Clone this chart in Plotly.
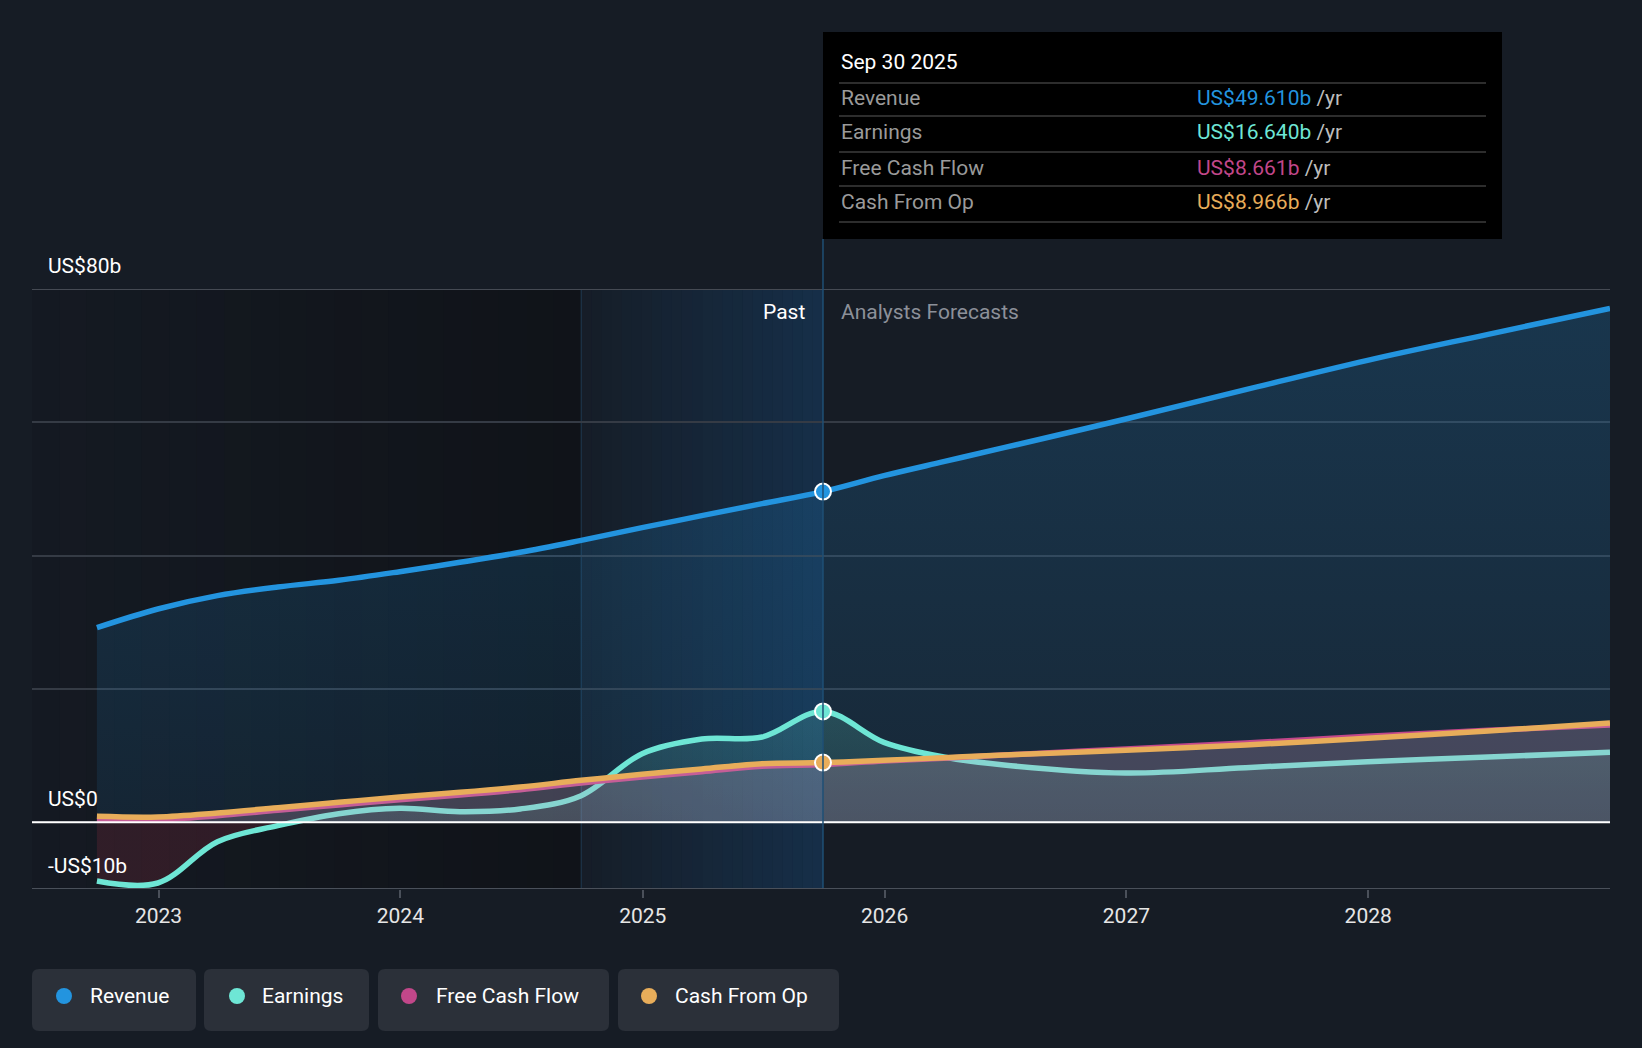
import pandas as pd
import plotly.graph_objects as go

# ── Data (US$ billions) ───────────────────────────────────────────────────────
dates = [
    "2022-09-30", "2022-12-31", "2023-03-31", "2023-06-30", "2023-09-30",
    "2023-12-31", "2024-03-31", "2024-06-30", "2024-09-30", "2024-12-31",
    "2025-03-31", "2025-06-30", "2025-09-30",
    "2025-12-31", "2026-03-31", "2026-06-30", "2026-12-31", "2027-06-30",
    "2027-12-31", "2028-06-30", "2028-12-31",
]
revenue = [29.2, 32.0, 34.0, 35.3, 36.3, 37.6, 39.0, 40.5, 42.3, 44.2, 46.0, 47.8, 49.61,
           52.0, 54.1, 56.2, 60.5, 64.9, 69.3, 73.2, 77.1]
earnings = [-8.8, -9.1, -2.9, -0.5, 1.3, 2.1, 1.6, 2.0, 4.0, 10.3, 12.5, 12.8, 16.64,
            12.0, 9.8, 8.6, 7.4, 8.2, 9.1, 9.8, 10.5]
free_cash_flow = [0.5, 0.4, 1.0, 1.8, 2.6, 3.4, 4.1, 4.9, 5.9, 6.8, 7.6, 8.4, 8.661,
                  9.2, 9.6, 10.1, 11.0, 11.9, 12.9, 13.8, 14.6]
cash_from_op = [0.9, 0.8, 1.4, 2.2, 3.0, 3.8, 4.5, 5.3, 6.3, 7.2, 8.0, 8.8, 8.966,
                9.3, 9.7, 10.1, 10.8, 11.6, 12.6, 13.7, 14.9]

NOW = "2025-09-30"
BAND_START = "2024-09-30"
X_START = "2022-06-24"
X_END = "2028-12-31"
Y_LABELS = {80: "US$80b", 0: "US$0", -10: "-US$10b"}

SERIES = [
    ("Revenue", revenue, "#2394df"),
    ("Earnings", earnings, "#6ee6d5"),
    ("Free Cash Flow", free_cash_flow, "#c2478a"),
    ("Cash From Op", cash_from_op, "#e8ad5a"),
]

BG = "#161c25"
FONT = "Roboto"
FS = 21
W, H = 1642, 1048
L, R, T, B = 32, 32, 289, 159
PW, PH = W - L - R, H - T - B


def px(x, y):
    """pixel position on the page -> paper coords"""
    return (x - L) / PW, (H - B - y) / PH


def rounded_rect(x0, y0, x1, y1, r):
    pts = [(x0 + r, y0), (x1 - r, y0), (x1, y0 + r), (x1, y1 - r),
           (x1 - r, y1), (x0 + r, y1), (x0, y1 - r), (x0, y0 + r)]
    p = [px(a, b) for a, b in pts]
    c = [px(x1, y0), px(x1, y1), px(x0, y1), px(x0, y0)]
    return (f"M{p[0][0]},{p[0][1]} L{p[1][0]},{p[1][1]} Q{c[0][0]},{c[0][1]} {p[2][0]},{p[2][1]} "
            f"L{p[3][0]},{p[3][1]} Q{c[1][0]},{c[1][1]} {p[4][0]},{p[4][1]} "
            f"L{p[5][0]},{p[5][1]} Q{c[2][0]},{c[2][1]} {p[6][0]},{p[6][1]} "
            f"L{p[7][0]},{p[7][1]} Q{c[3][0]},{c[3][1]} {p[0][0]},{p[0][1]} Z")


fig = go.Figure()

# ── Traces ────────────────────────────────────────────────────────────────────
LW = 5.5
fig.add_trace(go.Scatter(
    x=dates, y=revenue, mode="lines", line=dict(color="#2394df", width=LW, shape="spline"),
    fill="tozeroy",
    fillgradient=dict(type="vertical", start=0, stop=80,
                      colorscale=[[0, "rgba(35,148,223,0.10)"], [1, "rgba(35,148,223,0.22)"]]),
    hoverinfo="skip", showlegend=False,
))
fig.add_trace(go.Scatter(
    x=dates, y=earnings, mode="lines", line=dict(color="#6ee6d5", width=LW, shape="spline"),
    fill="tozeroy",
    fillgradient=dict(type="vertical", start=-10, stop=20,
                      colorscale=[[0, "rgba(150,45,65,0.22)"], [0.333, "rgba(150,45,65,0.22)"],
                                  [0.334, "rgba(110,230,213,0.10)"], [1, "rgba(110,230,213,0.20)"]]),
    hoverinfo="skip", showlegend=False,
))
fig.add_trace(go.Scatter(
    x=dates, y=free_cash_flow, mode="lines", line=dict(color="#c2478a", width=LW, shape="spline"),
    fill="tozeroy", fillcolor="rgba(194,71,138,0.10)",
    hoverinfo="skip", showlegend=False,
))
fig.add_trace(go.Scatter(
    x=dates, y=cash_from_op, mode="lines", line=dict(color="#e8ad5a", width=LW, shape="spline"),
    fill="tozeroy", fillcolor="rgba(215,215,225,0.16)",
    hoverinfo="skip", showlegend=False,
))

# highlighted points at the "now" date
i_now = dates.index(NOW)
for name, vals, color in [SERIES[0], SERIES[1], SERIES[3]]:
    fig.add_trace(go.Scatter(
        x=[dates[i_now]], y=[vals[i_now]], mode="markers",
        marker=dict(color=color, size=16, line=dict(color="white", width=2)),
        hoverinfo="skip", showlegend=False,
    ))

# ── Background regions ────────────────────────────────────────────────────────
shapes = []
past = pd.date_range(X_START, BAND_START, periods=21)
for k in range(20):
    a = 0.15 + 0.55 * k / 19
    shapes.append(dict(type="rect", xref="x", yref="paper", x0=past[k], x1=past[k + 1], y0=0, y1=1,
                       fillcolor=f"rgba(14,16,20,{a:.3f})", line_width=0, layer="below"))
band = pd.date_range(BAND_START, NOW, periods=25)
for k in range(24):
    a = 0.04 + 0.32 * k / 23
    shapes.append(dict(type="rect", xref="x", yref="paper", x0=band[k], x1=band[k + 1], y0=0, y1=1,
                       fillcolor=f"rgba(22,80,135,{a:.3f})", line_width=0, layer="below"))
shapes.append(dict(type="line", xref="x", yref="paper", x0=BAND_START, x1=BAND_START, y0=0, y1=1,
                   line=dict(color="rgba(40,80,115,0.6)", width=1), layer="below"))
# top gridline
shapes.append(dict(type="line", xref="paper", yref="y", x0=0, x1=1, y0=80, y1=80,
                   line=dict(color="#454a53", width=2), layer="below"))
# zero line over the series
shapes.append(dict(type="line", xref="paper", yref="y", x0=0, x1=1, y0=0, y1=0,
                   line=dict(color="#ffffff", width=2)))
# now divider reaching up to the tooltip
shapes.append(dict(type="line", xref="x", yref="paper", x0=NOW, x1=NOW, y0=0, y1=px(0, 239)[1],
                   line=dict(color="#1f4f75", width=1.5)))
# bottom axis line
shapes.append(dict(type="line", xref="paper", yref="y", x0=0, x1=1, y0=-10, y1=-10,
                   line=dict(color="#4a505a", width=2)))

# ── Tooltip box ───────────────────────────────────────────────────────────────
tx0, ty0 = px(823, 32)
tx1, ty1 = px(1502, 239)
shapes.append(dict(type="rect", xref="paper", yref="paper", x0=tx0, x1=tx1, y0=ty1, y1=ty0,
                   fillcolor="#000000", line_width=0))
for sy in [83, 116, 152, 186, 222]:
    sx0, yy = px(839, sy)
    sx1, _ = px(1486, sy)
    shapes.append(dict(type="line", xref="paper", yref="paper", x0=sx0, x1=sx1, y0=yy, y1=yy,
                       line=dict(color="#3c3c3c", width=1.5)))

annotations = []
lx, _ = px(839, 0)
vx, _ = px(1195, 0)
annotations.append(dict(text="Sep 30 2025", xref="paper", yref="paper", x=lx, y=px(0, 62)[1],
                        xanchor="left", yanchor="middle", showarrow=False,
                        font=dict(family=FONT, size=FS, color="#ffffff")))
tooltip_values = ["US$49.610b", "US$16.640b", "US$8.661b", "US$8.966b"]
for (name, vals, color), val, ry in zip(SERIES, tooltip_values, [98, 132, 168, 202]):
    yy = px(0, ry)[1]
    annotations.append(dict(text=name, xref="paper", yref="paper", x=lx, y=yy,
                            xanchor="left", yanchor="middle", showarrow=False,
                            font=dict(family=FONT, size=FS, color="#9a9a9a")))
    annotations.append(dict(text=f"<span style='color:{color}'>{val}</span> /yr",
                            xref="paper", yref="paper", x=vx, y=yy,
                            xanchor="left", yanchor="middle", showarrow=False,
                            font=dict(family=FONT, size=FS, color="#bdbdbd")))

# Past / forecast labels
annotations.append(dict(text="Past", xref="x", yref="paper", x=NOW, y=px(0, 312)[1],
                        xanchor="right", yanchor="middle", xshift=-16, showarrow=False,
                        font=dict(family=FONT, size=FS, color="#ffffff")))
annotations.append(dict(text="Analysts Forecasts", xref="x", yref="paper", x=NOW, y=px(0, 312)[1],
                        xanchor="left", yanchor="middle", xshift=16, showarrow=False,
                        font=dict(family=FONT, size=FS, color="#8c9099")))

# y labels above their gridlines
for val, lab in Y_LABELS.items():
    annotations.append(dict(text=lab, xref="paper", yref="y", x=px(46, 0)[0], y=val,
                            xanchor="left", yanchor="bottom", yshift=9, showarrow=False,
                            font=dict(family=FONT, size=FS, color="#ffffff")))

# ── Legend buttons ────────────────────────────────────────────────────────────
buttons = [(32, 196, 64, 88), (204, 369, 237, 260), (378, 609, 409, 434), (618, 839, 649, 673)]
for (name, vals, color), (bx0, bx1, dx, txx) in zip(SERIES, buttons):
    shapes.append(dict(type="path", xref="paper", yref="paper", path=rounded_rect(bx0, 969, bx1, 1031, 7),
                       fillcolor="#2b3039", line_width=0))
    c0 = px(dx - 8, 988)
    c1 = px(dx + 8, 1004)
    shapes.append(dict(type="circle", xref="paper", yref="paper", x0=c0[0], x1=c1[0], y0=c1[1], y1=c0[1],
                       fillcolor=color, line_width=0))
    tx, ty = px(txx, 996)
    annotations.append(dict(text=name, xref="paper", yref="paper", x=tx, y=ty,
                            xanchor="left", yanchor="middle", showarrow=False,
                            font=dict(family=FONT, size=FS, color="#ffffff")))

fig.update_layout(
    width=W, height=H,
    margin=dict(l=L, r=R, t=T, b=B),
    paper_bgcolor=BG, plot_bgcolor=BG,
    font=dict(family=FONT, color="#ffffff", size=FS),
    showlegend=False, hovermode=False,
    shapes=shapes, annotations=annotations,
    xaxis=dict(range=[X_START, X_END], type="date", showgrid=False, zeroline=False,
               tickvals=["2023-01-01", "2024-01-01", "2025-01-01", "2026-01-01", "2027-01-01", "2028-01-01"],
               ticktext=["2023", "2024", "2025", "2026", "2027", "2028"],
               ticks="outside", ticklen=8, tickwidth=1.5, tickcolor="#4a505a",
               tickfont=dict(family=FONT, size=FS, color="#e6e6e6"), showline=False),
    yaxis=dict(range=[-10, 80], tickvals=[0, 20, 40, 60], showticklabels=False,
               showgrid=True, gridcolor="#353b45", gridwidth=1.5,
               zeroline=False, fixedrange=True),
)

fig.write_html("out.html", config={"displayModeBar": False},
               post_script="document.body.style.margin='0';")
